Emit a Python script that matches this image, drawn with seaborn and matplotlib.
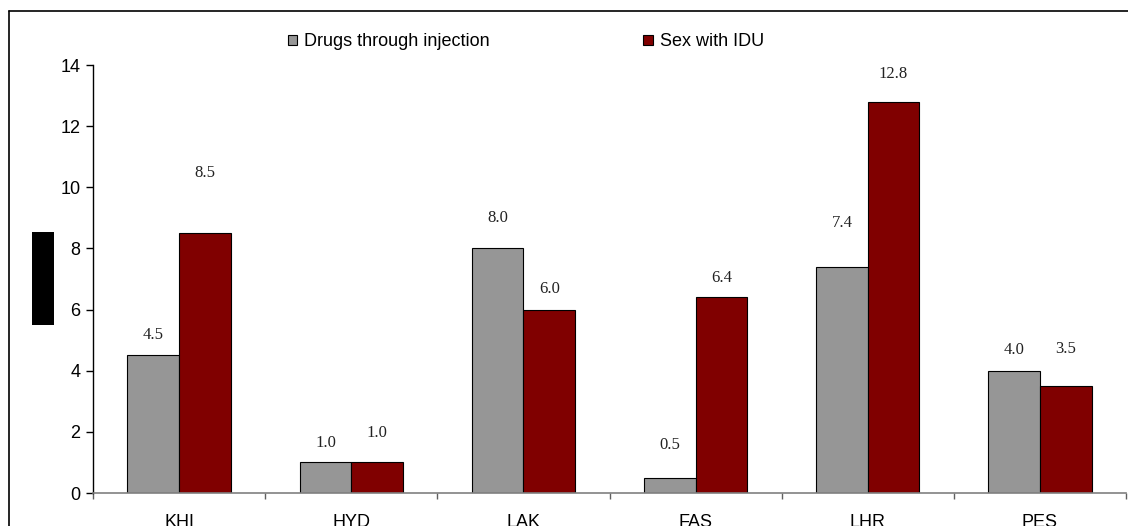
import matplotlib
matplotlib.use("Agg")
import matplotlib.pyplot as plt
from matplotlib.patches import Rectangle, Patch
from matplotlib.lines import Line2D
import numpy as np
import pandas as pd
import seaborn as sns

# ---- data ----
cities = ["KHI", "HYD", "LAK", "FAS", "LHR", "PES"]
drugs_injection = [4.5, 1.0, 8.0, 0.5, 7.4, 4.0]
sex_with_idu = [8.5, 1.0, 6.0, 6.4, 12.8, 3.5]
series_names = ["Drugs through injection", "Sex with IDU"]
y_ticks = [0, 2, 4, 6, 8, 10, 12, 14]

# label offsets above bar tops (pixels), as seen in the reference
label_gap_drugs = [20, 19, 30, 33, 44, 21]
label_gap_sex = [60, 29, 21, 19, 28, 37]

colors = ["#969696", "#800000"]

df = pd.DataFrame({
    "city": cities * 2,
    "value": drugs_injection + sex_with_idu,
    "series": [series_names[0]] * len(cities) + [series_names[1]] * len(cities),
})

sns.set_style("white")
plt.rcParams["font.family"] = ["Liberation Sans", "DejaVu Sans"]

W, H = 1128, 526
fig = plt.figure(figsize=(W / 100, H / 100), dpi=100)
ax = fig.add_axes([93 / W, 33 / H, (1126 - 93) / W, 428 / H])

sns.barplot(data=df, x="city", y="value", hue="series", order=cities,
            hue_order=series_names, palette=colors, width=0.6, gap=0,
            saturation=1, edgecolor="black", linewidth=0.8, ax=ax,
            legend=False, errorbar=None)

ax.set_xlim(-0.5, len(cities) - 0.5)
ax.set_ylim(0, 14)
ax.set_yticks(y_ticks)
ax.set_yticklabels([str(t) for t in y_ticks])
ax.set_xlabel("")
ax.set_ylabel("")

for s in ["top", "right"]:
    ax.spines[s].set_visible(False)
ax.spines["left"].set_color("black")
ax.spines["left"].set_linewidth(1.0)
ax.spines["bottom"].set_color("#808080")
ax.spines["bottom"].set_linewidth(1.2)

ax.tick_params(axis="y", which="major", direction="out", length=5, width=1,
               color="black", labelsize=13, pad=4, left=True, labelcolor="black")
ax.tick_params(axis="x", which="major", length=0, labelsize=13, pad=15,
               labelcolor="black")
ax.set_xticks(np.arange(-0.5, len(cities)), minor=True)
ax.tick_params(axis="x", which="minor", direction="out", length=4, width=1,
               color="#606060", bottom=True)

# value labels
for bars, vals, gaps in zip(ax.containers,
                            [drugs_injection, sex_with_idu],
                            [label_gap_drugs, label_gap_sex]):
    for rect, v, g in zip(bars, vals, gaps):
        ax.annotate(f"{v:.1f}", (rect.get_x() + rect.get_width() / 2, v),
                    xytext=(0, g * 0.72), textcoords="offset points",
                    ha="center", va="center", fontsize=12,
                    family=["Liberation Serif", "DejaVu Serif"], color="#222222")

# legend
handles = [Patch(facecolor=c, edgecolor="black", linewidth=0.8) for c in colors]
fig.legend(handles, series_names, loc="center", bbox_to_anchor=(526 / W, 1 - 42 / H),
           ncol=2, frameon=False, fontsize=13, handlelength=0.5, handleheight=0.5,
           handletextpad=0.4, columnspacing=8.5, borderpad=0, labelcolor="black")

# outer border (top and left visible)
fig.add_artist(Line2D([8.5 / W, 1.0], [1 - 10.5 / H, 1 - 10.5 / H], color="black",
                      linewidth=1.2, transform=fig.transFigure))
fig.add_artist(Line2D([8.5 / W, 8.5 / W], [0, 1 - 10.5 / H], color="black",
                      linewidth=1.2, transform=fig.transFigure))

# redacted y-label block
fig.add_artist(Rectangle((32 / W, 1 - 325 / H), 22 / W, 93 / H, facecolor="black",
                         edgecolor="none", transform=fig.transFigure))

fig.savefig("out.png", dpi=100)
